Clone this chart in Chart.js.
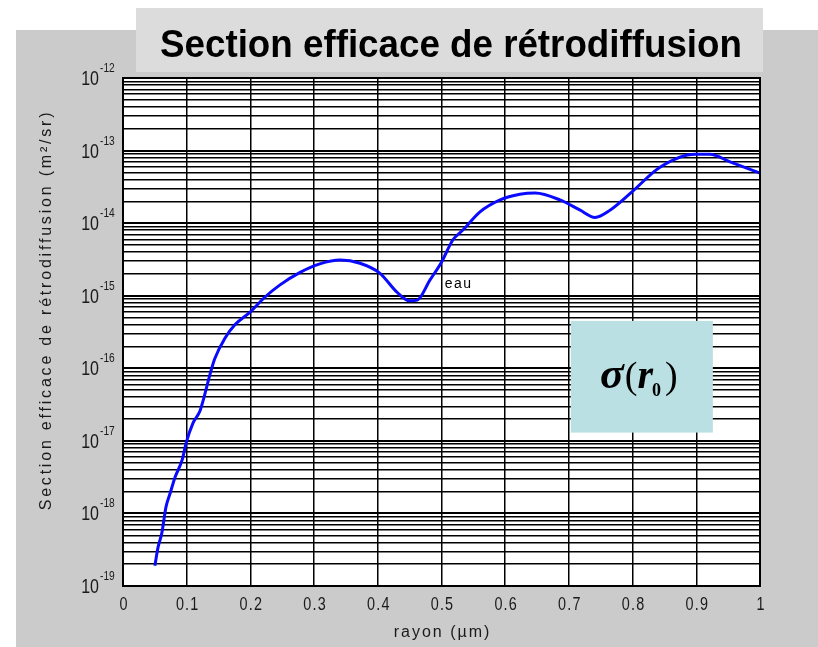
<!DOCTYPE html>
<html>
<head>
<meta charset="utf-8">
<script src="https://cdn.jsdelivr.net/npm/chart.js@4"></script>
<style>
html,body{margin:0;padding:0;background:#fff;}
canvas{display:block;}
</style>
</head>
<body>
<canvas id="c" width="818" height="647"></canvas>
<script>
// ---- data ----
const rayon = [0.050, 0.055, 0.061, 0.0675, 0.074, 0.082, 0.093, 0.099, 0.110, 0.121, 0.126,
  0.137, 0.144, 0.160, 0.176, 0.200, 0.223, 0.246, 0.278, 0.309, 0.341, 0.372, 0.403,
  0.430, 0.450, 0.462, 0.482, 0.500, 0.518, 0.534, 0.560, 0.592, 0.623, 0.647, 0.686,
  0.717, 0.741, 0.765, 0.799, 0.843, 0.898, 0.921, 0.953, 1.000];
const sigma = [1.9e-19, 3.4e-19, 5.4e-19, 1.23e-18, 1.9e-18, 3.2e-18, 5.5e-18, 9.3e-18, 1.77e-17, 2.6e-17, 3.65e-17,
  8.5e-17, 1.35e-16, 2.6e-16, 4.0e-16, 6.0e-16, 9.6e-16, 1.4e-15, 2.1e-15, 2.75e-15, 3.1e-15, 2.8e-15, 2.05e-15,
  1.12e-15, 8.5e-16, 8.7e-16, 1.65e-15, 2.9e-15, 5.9e-15, 8.1e-15, 1.42e-14, 2.09e-14, 2.5e-14, 2.6e-14, 2.09e-14,
  1.52e-14, 1.2e-14, 1.52e-14, 2.7e-14, 5.9e-14, 8.9e-14, 8.9e-14, 7.0e-14, 4.9e-14];
const xTickValues = [0, 0.1, 0.2, 0.3, 0.4, 0.5, 0.6, 0.7, 0.8, 0.9, 1];
const xTickLabels = ['0', '0.1', '0.2', '0.3', '0.4', '0.5', '0.6', '0.7', '0.8', '0.9', '1'];
const yDecadeExponents = [-19, -18, -17, -16, -15, -14, -13, -12];
const chartTitle = 'Section efficace de rétrodiffusion';
const xAxisTitle = 'rayon (µm)';
const yAxisTitle = 'Section efficace de rétrodiffusion (m²/sr)';
const seriesLabel = 'eau';
const seriesLabelAt = {x: 0.505, y: 1.5e-15};
const sigmaBox = {x0: 0.703, x1: 0.926, y0: 4.5e-16, y1: 1.3e-17};

const points = rayon.map((r, i) => ({x: r, y: sigma[i]}));

function isDecade(v) {
  const l = Math.log10(v);
  return Math.abs(l - Math.round(l)) < 1e-6;
}

function txt(ctx, s, x, y, font, align, base, spacing, sx) {
  ctx.save();
  ctx.font = font;
  ctx.letterSpacing = (spacing || 0) + 'px';
  ctx.textAlign = align || 'left';
  ctx.textBaseline = base || 'alphabetic';
  ctx.translate(x, y);
  ctx.scale(sx || 1, 1);
  ctx.fillText(s, 0, 0);
  ctx.restore();
}

const decor = {
  id: 'decor',
  beforeDraw(chart) {
    const ctx = chart.ctx, a = chart.chartArea;
    ctx.save();
    ctx.fillStyle = '#ffffff';
    ctx.fillRect(0, 0, chart.width, chart.height);
    ctx.fillStyle = '#cbcbcb';
    ctx.fillRect(16, 30, chart.width - 16, chart.height - 30);
    ctx.fillStyle = '#dcdcdc';
    ctx.fillRect(136, 8, 627, 64);
    ctx.fillStyle = '#ffffff';
    ctx.fillRect(a.left, a.top, a.right - a.left, a.bottom - a.top);
    ctx.fillStyle = '#000';
    txt(ctx, chartTitle, 451, 57, 'bold 38px "Liberation Sans", Arial, sans-serif', 'center', 'alphabetic', 0, 0.967);
    ctx.restore();
  },
  afterDraw(chart) {
    const ctx = chart.ctx, a = chart.chartArea;
    const xs = chart.scales.x, ys = chart.scales.y;
    ctx.save();
    // frame
    ctx.strokeStyle = '#000';
    ctx.lineWidth = 2;
    ctx.strokeRect(a.left, a.top, a.right - a.left, a.bottom - a.top);
    ctx.fillStyle = '#1a1a1a';
    // y tick labels 10^n
    yDecadeExponents.forEach(e => {
      const y = ys.getPixelForValue(Math.pow(10, e));
      txt(ctx, '10', 99, y + 7, '20px "Liberation Sans", Arial, sans-serif', 'right', 'alphabetic', 0, 0.8);
      txt(ctx, String(e), 100, y - 6, '12px "Liberation Sans", Arial, sans-serif', 'left', 'alphabetic', 0, 0.85);
    });
    // x tick labels
    xTickValues.forEach((v, i) => {
      const x = xs.getPixelForValue(v);
      txt(ctx, xTickLabels[i], x + 1, 610, '18px "Liberation Sans", Arial, sans-serif', 'center', 'alphabetic', 1.5, 0.8);
    });
    // axis titles
    txt(ctx, xAxisTitle, (a.left + a.right) / 2 + 1, 637, '16px "Liberation Sans", Arial, sans-serif', 'center', 'alphabetic', 2);
    ctx.save();
    ctx.translate(51, (a.top + a.bottom) / 2 - 22);
    ctx.rotate(-Math.PI / 2);
    txt(ctx, yAxisTitle, 0, 0, '16px "Liberation Sans", Arial, sans-serif', 'center', 'alphabetic', 2.8);
    ctx.restore();
    // series label
    ctx.fillStyle = '#000';
    txt(ctx, seriesLabel, xs.getPixelForValue(seriesLabelAt.x), ys.getPixelForValue(seriesLabelAt.y) + 5,
        '14px "Liberation Sans", Arial, sans-serif', 'left', 'alphabetic', 1.5);
    // sigma box
    const bx0 = xs.getPixelForValue(sigmaBox.x0), bx1 = xs.getPixelForValue(sigmaBox.x1);
    const by0 = ys.getPixelForValue(sigmaBox.y0), by1 = ys.getPixelForValue(sigmaBox.y1);
    ctx.fillStyle = '#bae0e4';
    ctx.fillRect(bx0, by0, bx1 - bx0, by1 - by0);
    ctx.fillStyle = '#000';
    const parts = [
      {s: 'σ', f: 'bold italic 44px "Liberation Serif", "Times New Roman", serif', dy: 0, gap: 1},
      {s: '(', f: '38px "Liberation Serif", "Times New Roman", serif', dy: 0, gap: 0},
      {s: 'r', f: 'bold italic 40px "Liberation Serif", "Times New Roman", serif', dy: 0, gap: -1},
      {s: '0', f: 'bold 18px "Liberation Serif", "Times New Roman", serif', dy: 8, gap: 4},
      {s: ')', f: '38px "Liberation Serif", "Times New Roman", serif', dy: 0, gap: 0}
    ];
    let total = 0;
    parts.forEach(p => { ctx.font = p.f; p.w = ctx.measureText(p.s).width; total += p.w + p.gap; });
    let cx = (bx0 + bx1) / 2 - total / 2 - 3;
    const base = (by0 + by1) / 2 + 11;
    parts.forEach(p => {
      txt(ctx, p.s, cx, base + p.dy, p.f, 'left');
      cx += p.w + p.gap;
    });
    ctx.restore();
  }
};

new Chart(document.getElementById('c'), {
  type: 'line',
  data: {
    datasets: [{
      label: seriesLabel,
      data: points,
      borderColor: '#0a0aff',
      borderWidth: 3,
      pointRadius: 0,
      tension: 0.2,
      cubicInterpolationMode: 'monotone',
      fill: false
    }]
  },
  options: {
    responsive: false,
    devicePixelRatio: 1,
    animation: false,
    layout: {padding: {left: 123, top: 78, right: 58, bottom: 61}},
    plugins: {legend: {display: false}, tooltip: {enabled: false}, title: {display: false}},
    scales: {
      x: {
        type: 'linear', min: 0, max: 1,
        afterBuildTicks: s => { s.ticks = xTickValues.map(v => ({value: v})); },
        ticks: {display: false},
        grid: {color: '#000', lineWidth: 1.5, drawTicks: false},
        border: {display: true, color: '#000', width: 2}
      },
      y: {
        type: 'logarithmic', min: 1e-19, max: 1e-12,
        afterBuildTicks: s => {
          const t = [];
          for (let i = 0; i < yDecadeExponents.length; i++) {
            const e = yDecadeExponents[i];
            const last = i === yDecadeExponents.length - 1;
            for (let k = 1; k <= (last ? 1 : 9); k++) t.push({value: k * Math.pow(10, e), major: k === 1});
          }
          s.ticks = t;
        },
        ticks: {display: false},
        grid: {color: '#000', lineWidth: c => (c.tick && isDecade(c.tick.value)) ? 2 : 1.4, drawTicks: false},
        border: {display: true, color: '#000', width: 2}
      }
    }
  },
  plugins: [decor]
});
</script>
</body>
</html>
